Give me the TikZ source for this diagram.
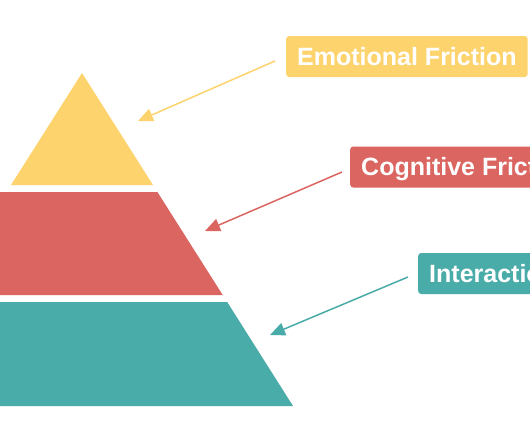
\documentclass[tikz,border=0pt]{standalone}
\usepackage{fontspec}
\setmainfont{Liberation Sans}
\usetikzlibrary{arrows.meta,calc}
\definecolor{cyel}{RGB}{253,211,110}
\definecolor{cred}{RGB}{219,101,97}
\definecolor{cteal}{RGB}{74,172,168}
\tikzset{
  lbl/.style={fill=#1, text=white, rounded corners=3pt, anchor=west,
    font=\fontsize{25}{25}\selectfont\bfseries, inner xsep=11pt, inner ysep=0pt,
    minimum height=41pt, text height=17.8pt, text depth=0pt},
  arr/.style={draw=#1, line width=1.5pt, -{Triangle[length=15pt,width=13pt]}},
}
\begin{document}
\begin{tikzpicture}[x=1pt,y=-1pt]
\clip (0,0) rectangle (530,442);
\fill[white] (0,0) rectangle (530,442);
% pyramid
\fill[cyel] (82,73) -- (153,185) -- (11,185) -- cycle;
\fill[cred] (-120,192) -- (157.4,192) -- (222.7,295) -- (-120,295) -- cycle;
\fill[cteal] (-200,302) -- (227.2,302) -- (293,406) -- (-200,406) -- cycle;
% labels
\node[lbl=cyel] (emo) at (286,56.5) {Emotional Friction};
\node[lbl=cred] (cog) at (350,167) {Cognitive Friction};
\node[lbl=cteal] (int) at (418,273.5) {Interaction Friction};
% arrow ends
\coordinate (emoS) at ($(emo.west)+(-11,4.5)$);
\coordinate (cogS) at ($(cog.west)+(-8,5)$);
\coordinate (intS) at ($(int.west)+(-10,3.5)$);
\coordinate (emoT) at (138,121);
\coordinate (cogT) at (205,231);
\coordinate (intT) at (270,335);
\draw[arr=cyel] (emoS) -- (emoT);
\draw[arr=cred] (cogS) -- (cogT);
\draw[arr=cteal] (intS) -- (intT);
\end{tikzpicture}
\end{document}
